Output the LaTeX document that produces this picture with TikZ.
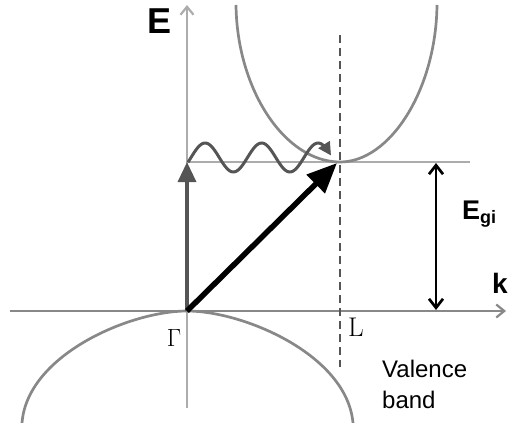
\documentclass[tikz,border=0pt]{standalone}
\usepackage{fontspec}
\setsansfont{Liberation Sans}
\usetikzlibrary{arrows.meta,positioning}
\definecolor{axisgray}{RGB}{172,172,172}
\definecolor{bandgray}{RGB}{136,136,136}
\definecolor{arrowgray}{RGB}{85,85,85}

\begin{document}
\begin{tikzpicture}[
  x=1pt,y=-1pt,
  axis/.style={line width=2.7pt,draw=axisgray},
  kaxis/.style={line width=2.7pt,draw=bandgray},
  band/.style={line width=2.7pt,draw=bandgray},
  chev/.style={-{Straight Barb[length=8pt,width=13pt,line width=2.2pt]}},
  lbl/.style={inner sep=0pt,font=\sffamily\bfseries},
  sym/.style={inner sep=0pt,font=\fontsize{28}{28}\selectfont},
  uparr/.style={-{Triangle[length=20pt,width=18pt]},line width=3.4pt,draw=arrowgray},
  transarr/.style={-{Triangle[length=30pt,width=25pt]},line width=5.5pt,draw=black},
  gaparr/.style={{Straight Barb[length=9pt,width=14pt,line width=2.7pt]}-{Straight Barb[length=9pt,width=14pt,line width=2.7pt]},line width=2.7pt,draw=black},
  dashline/.style={line width=2.3pt,draw=arrowgray,dash pattern=on 8pt off 5pt}
]
\useasboundingbox (0,0) rectangle (509,423);
% key points
\coordinate (G) at (187,311);
\coordinate (Lmin) at (340,162);
\coordinate (Etop) at (187,5);
\coordinate (Ebot) at (187,408);
\coordinate (kleft) at (10,311);
\coordinate (kright) at (506,311);
\coordinate (Cend) at (470,162);
\coordinate (Gtop) at (187,162);
\coordinate (Ltop) at (340,35);
\coordinate (Lbot) at (340,367);
\coordinate (gaptop) at (436,163);
\coordinate (gapbot) at (436,310);
% axes
\draw[axis,chev] (Ebot) -- (Etop);
\draw[kaxis,chev] (kleft) -- (kright);
\draw[axis] (Gtop) -- (Cend);
% bands
\draw[band] (236,5) .. controls (237,90) and (285,162) .. (Lmin)
  .. controls (390,162) and (436,90) .. (437,5);
\draw[band] (22,423) .. controls (27,355) and (130,311) .. (G)
  .. controls (244,311) and (347,355) .. (353,423);
\draw[dashline] (Ltop) -- (Lbot);
% transitions
\draw[uparr] (G) -- (Gtop);
\draw[transarr] (G) -- (337,163);
\draw[line width=3pt,draw=arrowgray,-{Triangle[length=13pt,width=13pt]}]
  plot[domain=188:331,samples=90] (\x,{157.5-14.5*sin(6.3717*(\x-191))});
\draw[gaparr] (gaptop) -- (gapbot);
% labels
\node[lbl,font=\sffamily\bfseries\fontsize{36}{36}\selectfont] (Elbl) at (160,21) {E};
\node[lbl,anchor=base west,font=\sffamily\bfseries\fontsize{27}{27}\selectfont] (Egi) at (462,219)
  {E\raisebox{-4pt}{\fontsize{18}{18}\selectfont gi}};
\node[lbl,anchor=base west,font=\sffamily\bfseries\fontsize{28}{28}\selectfont] (klbl) at (492,293) {k};
\node[sym] (Gamma) at (174,338) {$\Gamma$};
\node[sym,font=\fontsize{27}{27}\selectfont] (Llbl) at (356,327.5) {L};
\node[inner sep=0pt,anchor=base west,font=\sffamily\fontsize{24}{24}\selectfont] (valence) at (382,377) {Valence};
\node[inner sep=0pt,anchor=base west,font=\sffamily\fontsize{24}{24}\selectfont] (bandlbl) at (382,408) {band};
\end{tikzpicture}
\end{document}
